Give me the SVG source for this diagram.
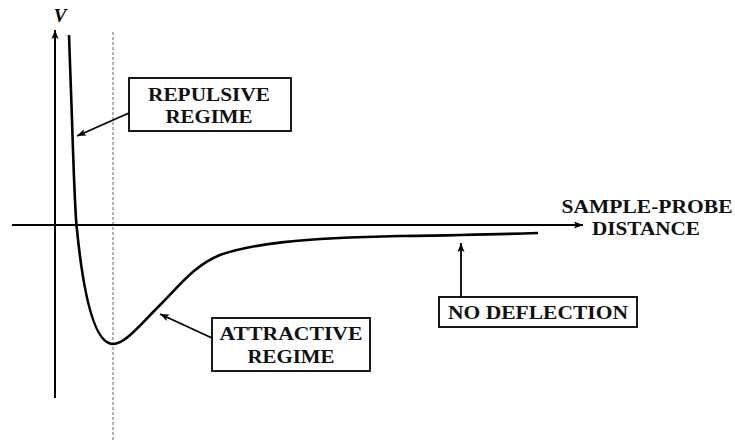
<svg xmlns="http://www.w3.org/2000/svg" width="735" height="440" viewBox="0 0 735 440">
<defs>
<marker id="ah" markerWidth="10" markerHeight="8" refX="9" refY="4" orient="auto" markerUnits="userSpaceOnUse">
<path d="M0,0.5 L9,4 L0,7.5 L2,4 Z" fill="#000"/>
</marker>
</defs>
<style>
.ax{stroke:#000;stroke-width:2;fill:none}
.cv{stroke:#000;stroke-width:2.6;fill:none}
.ar{stroke:#000;stroke-width:1.8;fill:none}
.bx{fill:#fff;stroke:#000;stroke-width:1.8}
.t{font-family:"Liberation Serif","DejaVu Serif",serif;font-weight:bold;font-size:19px;fill:#111;text-anchor:middle}
</style>
<rect width="735" height="440" fill="#fff"/>
<line x1="113" y1="32" x2="113" y2="440" stroke="#666" stroke-width="1" stroke-dasharray="3,2"/>
<g id="axes">
<line class="ax" x1="55" y1="398" x2="55" y2="30" marker-end="url(#ah)"/>
<line class="ax" x1="12" y1="225" x2="583" y2="225" marker-end="url(#ah)"/>
<text x="60" y="22" font-family="Liberation Serif,serif" font-style="italic" font-weight="bold" font-size="19" text-anchor="middle">V</text>
</g>
<g id="curve">
<path class="cv" d="M69,35 L72,120 C74,180 75,215 77,230 C82,280 92,344 113,344 C125,344 140,325 160,305 C180,285 195,265 220,255 C250,244 300,238 400,236 C470,235 510,234 538,233"/>
</g>
<g id="xlabel">
<text class="t" x="647" y="213" textLength="171" lengthAdjust="spacingAndGlyphs">SAMPLE-PROBE</text>
<text class="t" x="646" y="235" textLength="108" lengthAdjust="spacingAndGlyphs">DISTANCE</text>
</g>
<g id="repulsive">
<rect class="bx" x="129" y="78" width="162" height="53"/>
<text class="t" x="209" y="101" textLength="122" lengthAdjust="spacingAndGlyphs">REPULSIVE</text>
<text class="t" x="209" y="123" textLength="87" lengthAdjust="spacingAndGlyphs">REGIME</text>
</g>
<g id="attractive">
<rect class="bx" x="212" y="318" width="158" height="53"/>
<text class="t" x="291" y="340" textLength="143" lengthAdjust="spacingAndGlyphs">ATTRACTIVE</text>
<text class="t" x="291" y="363" textLength="87" lengthAdjust="spacingAndGlyphs">REGIME</text>
</g>
<g id="nodeflection">
<rect class="bx" x="439" y="297" width="198" height="30"/>
<text class="t" x="538" y="319" textLength="180" lengthAdjust="spacingAndGlyphs">NO DEFLECTION</text>
</g>
<g id="connectors">
<line class="ar" x1="129" y1="113" x2="77" y2="136" marker-end="url(#ah)"/>
<line class="ar" x1="212" y1="338" x2="160" y2="314" marker-end="url(#ah)"/>
<line class="ar" x1="461" y1="297" x2="461" y2="243" marker-end="url(#ah)"/>
</g>
</svg>
